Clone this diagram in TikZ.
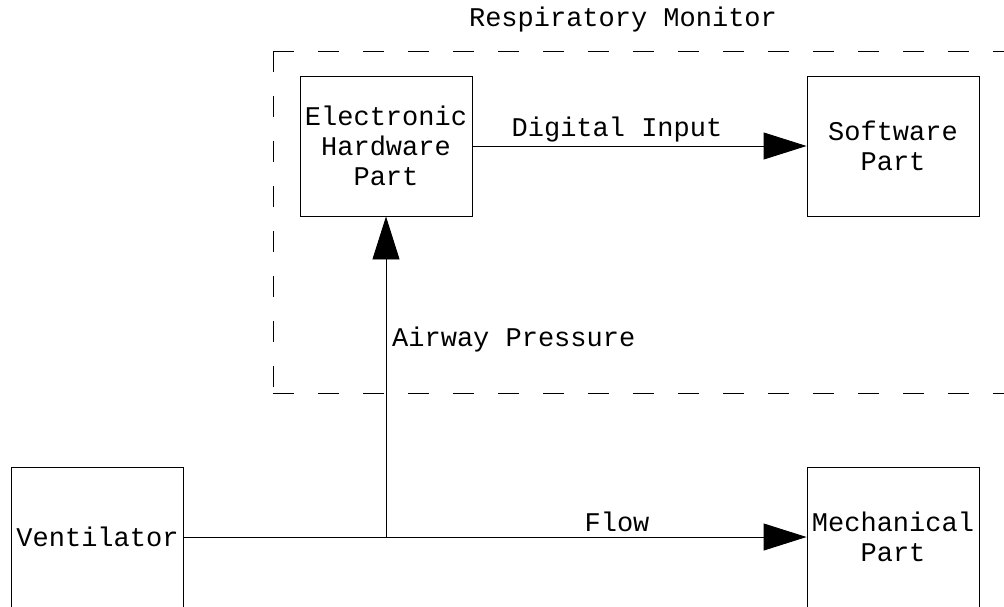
\documentclass[tikz,border=0pt]{standalone}
\usepackage{fontspec}
\setmainfont{Liberation Mono}
\usetikzlibrary{arrows.meta}
\begin{document}
\begin{tikzpicture}[x=1pt,y=-1pt,
  txt/.style={font=\fontsize{27}{30}\selectfont},
  block/.style={draw, line width=0.9pt, minimum width=172pt, minimum height=140pt,
    inner sep=0pt, align=center, txt},
  lbl/.style={inner sep=0pt, txt},
  conn/.style={line width=0.9pt, -{Triangle[length=43pt,width=27pt]}},
  frame/.style={line width=0.9pt, dash pattern=on 21pt off 24pt}]
\useasboundingbox[fill=white] (0,0) rectangle (1004,606);
% group frame
\draw[frame] (273,51) -- (1020,51);
\draw[frame] (273,51) -- (273,393);
\draw[frame] (273,393) -- (1020,393);
\node[lbl] (title) at (623,20) {Respiratory Monitor};
% blocks
\node[block] (elec) at (386,146) {Electronic\\Hardware\\Part};
\node[block] (soft) at (893,146) {Software\\Part};
\node[block] (vent) at (97.5,537) {Ventilator};
\node[block] (mech) at (893,537) {Mechanical\\Part};
\coordinate (junc) at (elec.south |- vent.east);
% connectors
\draw[conn] (elec.east) -- (soft.west);
\draw[conn] (vent.east) -- (mech.west);
\draw[conn] (junc) -- (elec.south);
% labels
\node[lbl] (dlbl) at (617,130) {Digital Input};
\node[lbl] (flbl) at (617,522) {Flow};
\node[lbl, anchor=west] (albl) at (392,340) {Airway Pressure};
\end{tikzpicture}
\end{document}
